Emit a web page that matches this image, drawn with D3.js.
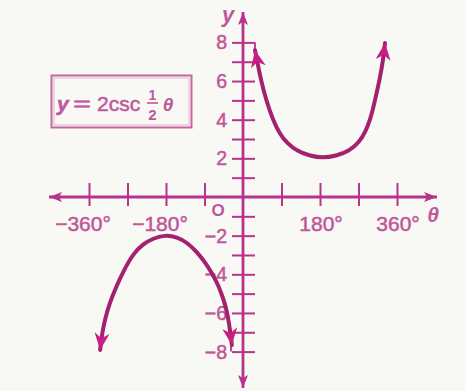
<!DOCTYPE html>
<html>
<head>
<meta charset="utf-8">
<script src="https://cdn.jsdelivr.net/npm/d3@7"></script>
<style>
  html, body { margin: 0; padding: 0; background: #f8f8f4; }
  svg { display: block; }
  text { font-family: "Liberation Sans", Arial, sans-serif; }
  .lbl { stroke: #c0579a; stroke-width: 0.5px; }
</style>
</head>
<body>
<svg id="chart" width="466" height="391"></svg>
<script>
// Tick positions and labels
const xTickValues = [-360, -270, -180, -90, 90, 180, 270, 360];
const xTickLabels = [
  { value: -360, text: "\u2212360\u00b0" },
  { value: -180, text: "\u2212180\u00b0" },
  { value: 180, text: "180\u00b0" },
  { value: 360, text: "360\u00b0" }
];
const yTickValues = [-8, -7, -6, -5, -4, -3, -2, -1, 1, 2, 3, 4, 5, 6, 7, 8];
const yTickLabels = [-8, -6, -4, -2, 2, 4, 6, 8];

// Branches of y = 2 csc(θ/2), sampled points (θ in degrees, y)
const branchRightTheta = [28, 35, 42, 54, 70, 86, 103, 126, 157, 187, 217, 248, 271, 286, 297, 306, 313, 320, 327, 332];
const branchRightY     = [7.6, 6.83, 6.05, 5.02, 3.98, 3.26, 2.79, 2.38, 2.12, 2.02, 2.12, 2.38, 2.82, 3.36, 3.98, 4.75, 5.45, 6.16, 7.0, 7.97];
const branchLeftTheta  = [-334, -330, -323, -312, -296, -277, -257, -234, -208, -182, -154, -129, -108, -89, -73, -58, -47, -38, -32, -26];
const branchLeftY      = [-7.92, -7.14, -6.36, -5.5, -4.62, -3.72, -2.95, -2.43, -2.12, -1.97, -2.07, -2.38, -2.85, -3.36, -3.93, -4.55, -5.2, -5.85, -6.62, -7.66];

const svg = d3.select("#chart");

const x = d3.scaleLinear().domain([-360, 360]).range([89, 397]);
const y = d3.scaleLinear().domain([-8, 8]).range([351.6, 42.4]);

const axisColor = "#b8338a";
const curveColor = "#a3216f";
const headColor = "#c81f84";
const textColor = "#c0579a";

const defs = svg.append("defs");
// small filled arrowhead for the axes
defs.append("marker")
  .attr("id", "axisHead")
  .attr("viewBox", "-13 -6 15 12")
  .attr("refX", 0).attr("refY", 0)
  .attr("markerWidth", 15).attr("markerHeight", 12)
  .attr("markerUnits", "userSpaceOnUse")
  .attr("orient", "auto-start-reverse")
  .append("path")
  .attr("d", "M0,0 L-13,-5 L-10,0 L-13,5 Z")
  .attr("fill", axisColor);
// notched arrowhead for the curve ends
defs.append("marker")
  .attr("id", "curveHead")
  .attr("viewBox", "-18 -8 20 16")
  .attr("refX", 0).attr("refY", 0)
  .attr("markerWidth", 20).attr("markerHeight", 16)
  .attr("markerUnits", "userSpaceOnUse")
  .attr("orient", "auto-start-reverse")
  .append("path")
  .attr("d", "M0,0 L-17,-7.5 L-12,0 L-17,7.5 Z")
  .attr("fill", headColor);

const x0 = x(0), y0 = y(0);

// x axis with arrows at both ends
svg.append("line")
  .attr("x1", 49).attr("x2", 437)
  .attr("y1", y0).attr("y2", y0)
  .attr("stroke", axisColor).attr("stroke-width", 2.8)
  .attr("marker-start", "url(#axisHead)")
  .attr("marker-end", "url(#axisHead)");

// y axis with arrows at both ends
svg.append("line")
  .attr("x1", x0).attr("x2", x0)
  .attr("y1", 12).attr("y2", 388)
  .attr("stroke", axisColor).attr("stroke-width", 2.8)
  .attr("marker-start", "url(#axisHead)")
  .attr("marker-end", "url(#axisHead)");

// x ticks: crossing the axis
const xAxis = d3.axisBottom(x).tickValues(xTickValues).tickSize(0).tickFormat("");
const gx = svg.append("g").attr("transform", `translate(0,${y0})`).call(xAxis);
gx.select(".domain").remove();
gx.selectAll(".tick line")
  .attr("y1", -14).attr("y2", 9)
  .attr("stroke", axisColor).attr("stroke-width", 2);

// y ticks: crossing the axis
const yAxis = d3.axisLeft(y).tickValues(yTickValues).tickSize(0).tickFormat("");
const gy = svg.append("g").attr("transform", `translate(${x0},0)`).call(yAxis);
gy.select(".domain").remove();
gy.selectAll(".tick line")
  .attr("x1", -11).attr("x2", 12)
  .attr("stroke", axisColor).attr("stroke-width", 2);

// little corner strokes at the ends of the 8 and -8 ticks
svg.append("line")
  .attr("x1", x0 + 12).attr("x2", x0 + 12)
  .attr("y1", y(8)).attr("y2", y(7.6))
  .attr("stroke", axisColor).attr("stroke-width", 1.8);
svg.append("line")
  .attr("x1", x0 - 12).attr("x2", x0 - 12)
  .attr("y1", y(-8)).attr("y2", y(-7.5))
  .attr("stroke", axisColor).attr("stroke-width", 1.8);

// x tick labels
svg.append("g").selectAll("text")
  .data(xTickLabels)
  .join("text")
  .attr("class", "lbl")
  .attr("x", d => x(d.value) + (d.value < 0 ? -6 : 1))
  .attr("y", 231)
  .attr("text-anchor", "middle")
  .attr("font-size", 21)
  .attr("fill", textColor)
  .text(d => d.text);

// y tick labels
svg.append("g").selectAll("text")
  .data(yTickLabels)
  .join("text")
  .attr("class", "lbl")
  .attr("x", 227)
  .attr("y", d => y(d) + 7)
  .attr("text-anchor", "end")
  .attr("font-size", 19.5)
  .attr("fill", textColor)
  .text(d => d < 0 ? "\u2212" + Math.abs(d) : String(d));

// origin
svg.append("text")
  .attr("x", 218).attr("y", 215.5)
  .attr("text-anchor", "middle")
  .attr("font-size", 17).attr("font-weight", "bold")
  .attr("fill", textColor)
  .text("O");

// axis names
svg.append("text")
  .attr("x", 228).attr("y", 22)
  .attr("text-anchor", "middle")
  .attr("font-size", 22).attr("font-style", "italic").attr("font-weight", "bold")
  .attr("fill", textColor)
  .text("y");
svg.append("text")
  .attr("x", 433).attr("y", 222)
  .attr("text-anchor", "middle")
  .attr("font-size", 21).attr("font-style", "italic").attr("font-weight", "bold")
  .attr("font-family", "DejaVu Sans, sans-serif")
  .attr("fill", textColor)
  .text("\u03b8");

// curve branches
const line = d3.line()
  .x(d => x(d[0]))
  .y(d => y(d[1]))
  .curve(d3.curveBasis);

const branches = [
  d3.zip(branchRightTheta, branchRightY),
  d3.zip(branchLeftTheta, branchLeftY)
];

svg.append("g").selectAll("path")
  .data(branches)
  .join("path")
  .attr("d", line)
  .attr("fill", "none")
  .attr("stroke", curveColor)
  .attr("stroke-width", 4)
  .attr("stroke-linecap", "round")
  .attr("marker-start", "url(#curveHead)")
  .attr("marker-end", "url(#curveHead)");

// equation box
const box = svg.append("g");
box.append("rect")
  .attr("x", 51.5).attr("y", 75.5)
  .attr("width", 140).attr("height", 52)
  .attr("fill", "none")
  .attr("stroke", "#c466a0").attr("stroke-width", 2);
box.append("rect")
  .attr("x", 54).attr("y", 78)
  .attr("width", 135).attr("height", 47)
  .attr("fill", "none")
  .attr("stroke", "#e2b3cf").attr("stroke-width", 1);

const eq = box.append("text")
  .attr("class", "lbl")
  .attr("y", 111)
  .attr("font-size", 21)
  .attr("fill", textColor);
eq.append("tspan").attr("x", 57).attr("font-style", "italic").attr("font-weight", "bold").text("y");
eq.append("tspan").attr("x", 73).attr("textLength", 18).attr("lengthAdjust", "spacingAndGlyphs").text("=");
eq.append("tspan").attr("x", 97).text("2csc");
// fraction 1/2
box.append("text")
  .attr("x", 152.5).attr("y", 100)
  .attr("text-anchor", "middle")
  .attr("font-size", 14).attr("font-weight", "bold")
  .attr("fill", textColor).text("1");
box.append("line")
  .attr("x1", 147).attr("x2", 158)
  .attr("y1", 103).attr("y2", 103)
  .attr("stroke", textColor).attr("stroke-width", 1.6);
box.append("text")
  .attr("x", 152.5).attr("y", 120)
  .attr("text-anchor", "middle")
  .attr("font-size", 15).attr("font-weight", "bold")
  .attr("fill", textColor).text("2");
box.append("text")
  .attr("x", 168).attr("y", 111)
  .attr("text-anchor", "middle")
  .attr("font-size", 19).attr("font-style", "italic").attr("font-weight", "bold")
  .attr("font-family", "DejaVu Sans, sans-serif")
  .attr("fill", textColor).text("\u03b8");
</script>
</body>
</html>
